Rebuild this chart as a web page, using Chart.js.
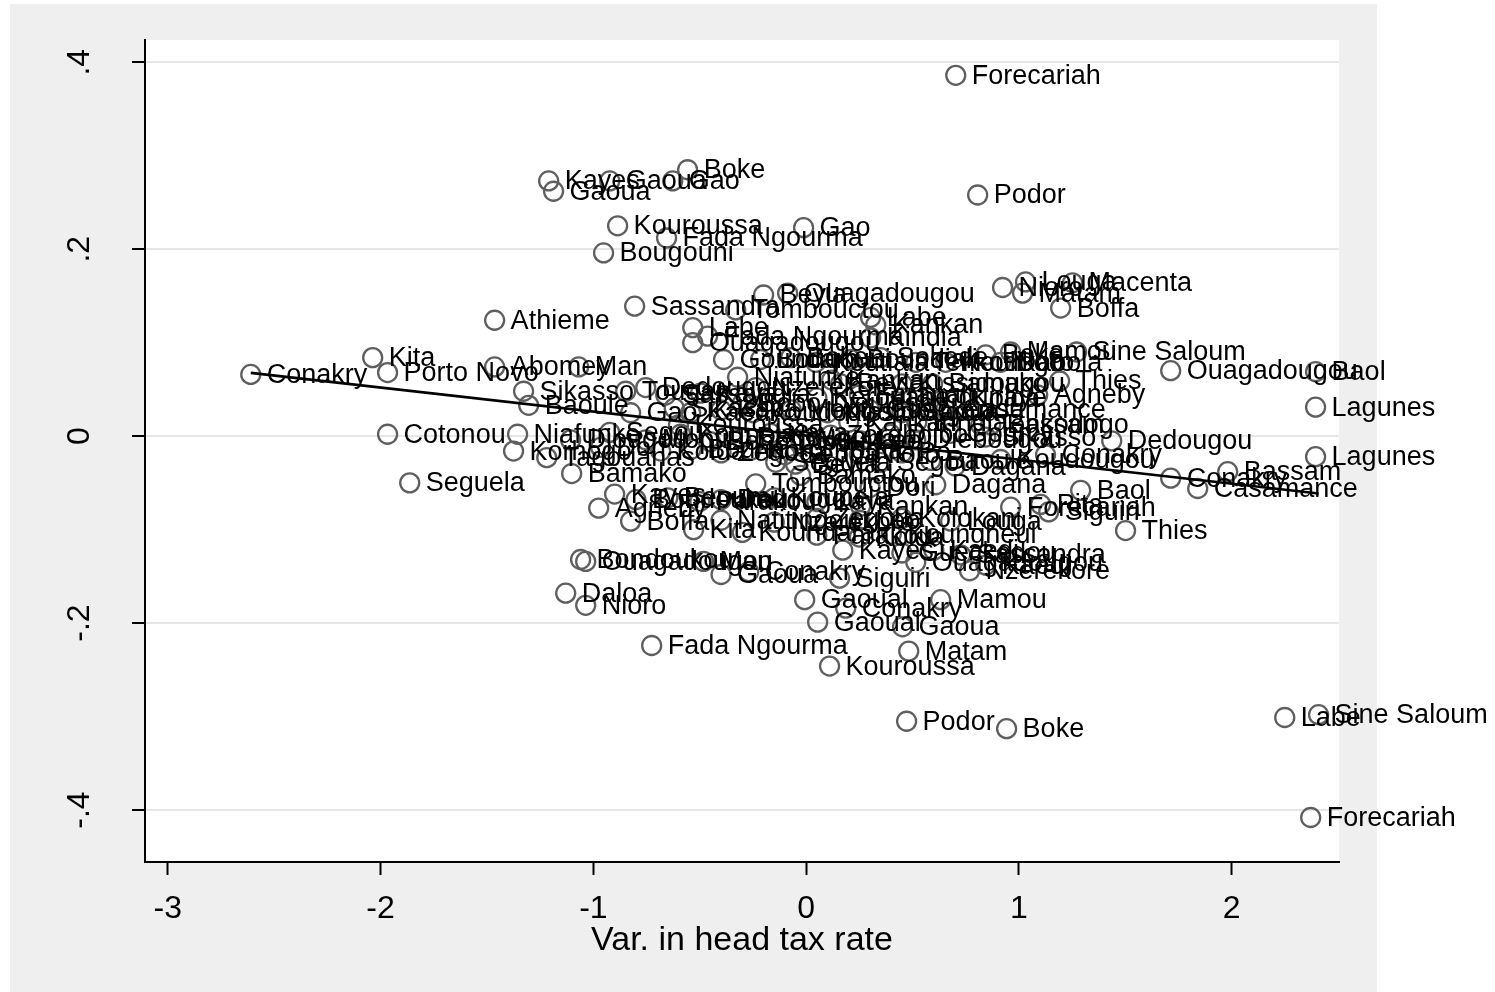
<!DOCTYPE html>
<html>
<head>
<meta charset="utf-8">
<script src="https://cdn.jsdelivr.net/npm/chart.js@4.4.1/dist/chart.umd.min.js"></script>
<style>
  html, body { margin: 0; padding: 0; background: #ffffff; }
  #wrap { width: 1495px; height: 992px; }
</style>
</head>
<body>
<div id="wrap"><canvas id="c" width="1495" height="992"></canvas></div>
<script>
// District names, variation in head tax rate (x) and residual (y)
const districts = [
  "Forecariah","Boke","Kayes","Gaoua","Gao","Gaoua","Podor","Kouroussa","Gao","Fada Ngourma",
  "Bougouni","Nioro","Louga","Matam","Macenta","Boffa","Beyla","Ouagadougou","Sassandra","Tombouctou",
  "Labe","Athieme","Kankan","Labe","Fada Ngourma","Ouagadougou","Kindia","Goundam","Bougouni","Boke",
  "Koutiala","Boundiali","Sokode","Tenkodogo","Koulikoro","Boke","Mamou","Dabola","Sine Saloum","Thies",
  "Agneby","Ouagadougou","Baol","Lagunes","Lagunes","Kita","Conakry","Porto Novo","Abomey","Man",
  "Cotonou","Seguela","Niafunke","Korhogo","Tagouanas","Sikasso","Baoule","Bamako","Niafunke","Bamako",
  "Djougou","Dori","Segou","Tougan","Dedougou","Sassandra","Kaya","Nzerekore","Beyla","Kissidougou",
  "Kerouane","Faranah","Dinguiraye","Kolda","Gao","Kaedi","Kaya","Koudougou","Mopti","Kissidougou",
  "Gueckedou","Gaoua","Casamance","Bassam","Kouroussa","Kankan","Mopti","Koupela","Bobo Dioulasso","Dedougou",
  "Kaya","Nouna","Zorgho","Leo","Djibo","Diebougou","Sikasso","Gourcy","Kolda","Bouna",
  "Zegoua","Koro","Sebba","Toma","Nioro","Po","Koudougou","Conakry","Seguela","Beyla",
  "Segou","Baoule","Dagana","Tombouctou","Bamako","Dagana","Dori","Kayes","Agneby","Bondoukou",
  "Beoumi","Parakou","Dedougou","Koupela","Kaya","Kankan","Boffa","Natitingou","Nzerekore","Zegoua",
  "Leo","Kolokani","Louga","Kita","Koundara","Parakou","Kolda","Koungheul","Kayes","Sassandra",
  "Gueckedou","Kaedi","Ouagadougou","Kaedi","Nzerekore","Bondoukou","Ouagadougou","Man","Gaoua","Conakry",
  "Siguiri","Gaoual","Conakry","Mamou","Gaoual","Gaoua","Fada Ngourma","Matam","Kouroussa","Daloa",
  "Nioro","Podor","Boke","Labe","Sine Saloum","Forecariah","Dedougou","Conakry","Bassam","Casamance",
  "Baol","Thies","Siguiri","Forecariah","Pita","Kankan","Kindia","Bobo Dioulasso","Tenkodogo","Sikasso"
];
const headTaxVar = [
  0.703,-0.557,-1.210,-0.923,-0.627,-1.187,0.806,-0.886,-0.012,-0.656,
  -0.952,0.923,1.031,1.017,1.252,1.196,-0.200,-0.087,-0.806,-0.331,
  0.303,-1.464,0.327,-0.533,-0.463,-0.533,0.303,-0.388,-0.214,-0.073,
  0.045,0.209,0.350,0.515,0.656,0.844,0.961,0.914,1.271,1.191,
  1.088,1.713,2.394,2.394,2.394,-2.037,-2.610,-1.967,-1.464,-1.069,
  -1.967,-1.863,-1.356,-1.375,-1.219,-1.328,-1.304,-1.102,-0.322,0.594,
  -1.107,-0.966,-0.923,-0.848,-0.754,-0.660,-0.496,-0.237,0.162,0.450,
  0.050,0.250,0.450,0.700,-0.825,-0.543,-0.400,-0.250,-0.070,0.100,
  0.300,0.450,0.656,0.867,-0.600,0.200,-0.754,-0.590,-0.450,-0.308,
  -0.167,-0.026,0.115,0.256,0.397,0.515,0.844,0.679,-0.684,-0.540,
  -0.400,-0.260,-0.100,0.070,0.250,0.450,0.914,1.125,-0.143,-0.050,
  0.350,0.585,0.700,-0.237,-0.026,0.609,0.300,-0.900,-0.975,-0.800,
  -0.650,-0.500,-0.400,-0.150,0.050,0.256,-0.825,-0.400,-0.150,0.050,
  0.250,0.450,0.679,-0.529,-0.300,0.050,0.250,0.400,0.172,0.726,
  0.450,0.600,0.515,0.844,0.768,-1.060,-1.036,-0.482,-0.400,-0.270,
  0.157,-0.007,0.186,0.632,0.054,0.453,-0.726,0.482,0.110,-1.130,
  -1.036,0.472,0.942,2.249,2.408,2.371,1.436,1.713,1.981,1.840,
  1.290,1.501,1.140,0.961,1.102,0.120,0.520,-0.300,0.820,-0.620
];
const residual = [
  0.386,0.285,0.273,0.273,0.273,0.262,0.258,0.225,0.223,0.212,
  0.196,0.159,0.165,0.153,0.164,0.137,0.151,0.153,0.139,0.135,
  0.127,0.124,0.119,0.116,0.107,0.100,0.105,0.082,0.082,0.084,
  0.079,0.082,0.084,0.079,0.079,0.087,0.090,0.079,0.090,0.059,
  0.044,0.070,0.069,0.031,-0.022,0.084,0.066,0.068,0.074,0.074,
  0.002,-0.050,0.002,-0.016,-0.023,0.048,0.033,-0.040,0.063,0.056,
  -0.004,-0.012,0.004,0.048,0.052,0.044,0.046,0.052,0.056,0.056,
  0.041,0.044,0.041,0.040,0.025,0.025,0.028,0.025,0.028,0.025,
  0.028,0.025,0.028,0.012,0.012,0.015,-0.004,0.002,-0.006,-0.002,
  0.003,-0.004,0.001,-0.005,0.002,-0.004,-0.001,0.003,-0.016,-0.014,
  -0.018,-0.015,-0.020,-0.015,-0.020,-0.018,-0.025,-0.020,-0.028,-0.030,
  -0.028,-0.026,-0.032,-0.051,-0.042,-0.052,-0.055,-0.062,-0.077,-0.068,
  -0.066,-0.070,-0.068,-0.066,-0.070,-0.075,-0.091,-0.090,-0.092,-0.088,
  -0.090,-0.088,-0.091,-0.100,-0.103,-0.106,-0.108,-0.105,-0.122,-0.127,
  -0.125,-0.122,-0.135,-0.138,-0.144,-0.132,-0.134,-0.134,-0.148,-0.145,
  -0.152,-0.175,-0.184,-0.175,-0.199,-0.204,-0.224,-0.230,-0.246,-0.168,
  -0.181,-0.305,-0.313,-0.301,-0.298,-0.408,-0.005,-0.045,-0.038,-0.056,
  -0.058,-0.101,-0.081,-0.076,-0.073,0.060,0.015,0.035,0.012,0.030
];

// Linear fit of residual on head tax variation
const fitIntercept = 0.0006;
const fitSlope = -0.0257;

// Axis ticks
const xTicks = [-3, -2, -1, 0, 1, 2];
const xTickLabels = ["-3", "-2", "-1", "0", "1", "2"];
const yTicks = [0.4, 0.2, 0, -0.2, -0.4];
const yTickLabels = [".4", ".2", "0", "-.2", "-.4"];
const xTitle = "Var. in head tax rate";

const points = districts.map((d, i) => ({ x: headTaxVar[i], y: residual[i] }));
const xLo = Math.min(...headTaxVar), xHi = Math.max(...headTaxVar);
const fitLine = [
  { x: xLo, y: fitIntercept + fitSlope * xLo },
  { x: xHi, y: fitIntercept + fitSlope * xHi }
];

const FONT = '"Liberation Sans", Arial, Helvetica, sans-serif';

const frame = {
  id: 'frame',
  beforeDraw(chart) {
    const { ctx, chartArea: a } = chart;
    ctx.save();
    ctx.fillStyle = '#ffffff';
    ctx.fillRect(0, 0, chart.width, chart.height);
    ctx.fillStyle = '#efefef';
    ctx.fillRect(10, 4, 1367, 988);
    ctx.fillStyle = '#ffffff';
    ctx.fillRect(a.left, a.top, a.right - a.left, a.bottom - a.top);
    ctx.restore();
  },
  afterDatasetDraw(chart, args) {
    if (args.index !== 0) return;
    const { ctx } = chart;
    const meta = chart.getDatasetMeta(0);
    ctx.save();
    ctx.fillStyle = '#000000';
    ctx.font = '27px ' + FONT;
    ctx.textAlign = 'left';
    ctx.textBaseline = 'middle';
    meta.data.forEach((pt, i) => {
      ctx.fillText(districts[i], pt.x + 16, pt.y + 1);
    });
    ctx.restore();
  },
  afterDraw(chart) {
    const { ctx, chartArea: a } = chart;
    const xs = chart.scales.x, ys = chart.scales.y;
    ctx.save();
    ctx.fillStyle = '#000000';
    ctx.font = '32px ' + FONT;
    // x tick labels
    ctx.textAlign = 'center';
    ctx.textBaseline = 'alphabetic';
    xTicks.forEach((v, i) => {
      ctx.fillText(xTickLabels[i], xs.getPixelForValue(v), 918);
    });
    // y tick labels, rotated
    yTicks.forEach((v, i) => {
      const py = ys.getPixelForValue(v);
      ctx.save();
      ctx.translate(89, py);
      ctx.rotate(-Math.PI / 2);
      ctx.textAlign = 'center';
      ctx.textBaseline = 'alphabetic';
      ctx.fillText(yTickLabels[i], 0, 0);
      ctx.restore();
    });
    // x axis title
    ctx.font = '34px ' + FONT;
    ctx.textAlign = 'center';
    ctx.fillText(xTitle, (a.left + a.right) / 2, 950);
    ctx.restore();
  }
};

new Chart(document.getElementById('c'), {
  type: 'scatter',
  data: {
    datasets: [
      {
        data: points,
        pointStyle: 'circle',
        pointRadius: 9.5,
        pointHoverRadius: 9.5,
        borderWidth: 2.3,
        borderColor: '#5e5e5e',
        backgroundColor: 'rgba(0,0,0,0)',
        order: 2
      },
      {
        type: 'line',
        data: fitLine,
        borderColor: '#000000',
        borderWidth: 2.6,
        pointRadius: 0,
        fill: false,
        order: 1
      }
    ]
  },
  options: {
    responsive: false,
    animation: false,
    devicePixelRatio: 1,
    layout: { padding: { left: 0, top: 40, right: 156, bottom: 0 } },
    plugins: { legend: { display: false }, tooltip: { enabled: false } },
    scales: {
      x: {
        type: 'linear',
        min: -3.107,
        max: 2.504,
        afterBuildTicks: s => { s.ticks = xTicks.map(v => ({ value: v })); },
        afterFit: s => { s.height = 130; },
        ticks: { display: false },
        grid: { drawOnChartArea: false, drawTicks: true, tickLength: 13, tickColor: '#000000', tickWidth: 2 },
        border: { display: true, color: '#000000', width: 2 }
      },
      y: {
        type: 'linear',
        min: -0.4556,
        max: 0.4238,
        afterBuildTicks: s => { s.ticks = yTicks.map(v => ({ value: v })); },
        afterFit: s => { s.width = 145; },
        ticks: { display: false },
        grid: { color: '#e6e6e6', lineWidth: 2, drawTicks: true, tickLength: 13, tickColor: '#000000', tickWidth: 2 },
        border: { display: true, color: '#000000', width: 2 }
      }
    }
  },
  plugins: [frame]
});
</script>
</body>
</html>
